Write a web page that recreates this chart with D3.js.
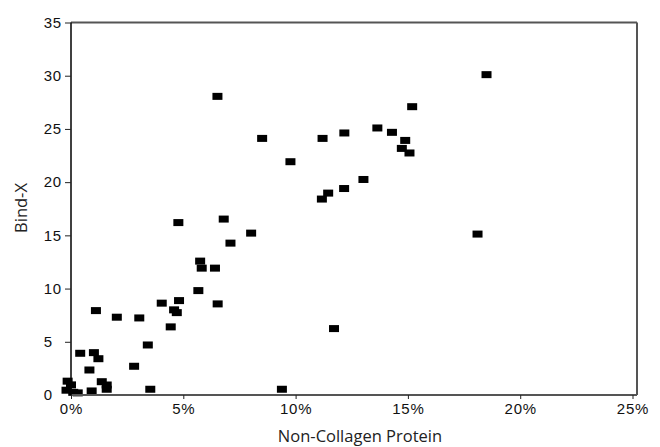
<!DOCTYPE html>
<html>
<head>
<meta charset="utf-8">
<script src="https://d3js.org/d3.v7.min.js"></script>
<style>
  body { margin: 0; background: #fff; }
  .tick text { font-family: "Liberation Sans", Arial, sans-serif; font-size: 15px; fill: #111; letter-spacing: 0.8px; }
  .title { font-family: "Open Sans", sans-serif; font-size: 16.5px; fill: #222; }
</style>
</head>
<body>
<script>
// Non-Collagen Protein (%) vs Bind-X
var protein = [1.11, 2.04, 3.04, 4.04, 4.81, 4.59, 4.71, 4.44, 3.42, 0.41,
               1.02, 1.22, 0.82, 2.81, 1.37, 1.59, 1.59, 0.92, 3.53, 9.39,
               -0.15, 0.0, -0.2, 0.1, 0.3,
               4.78, 6.8, 8.02, 7.1, 5.75, 5.82, 6.41, 5.67, 6.53,
               6.52, 8.51, 11.2, 9.77, 12.17, 13.64, 14.29, 14.88, 14.73, 15.07,
               13.02, 12.16, 11.45, 11.17, 18.1, 11.71, 15.19, 18.5];
var bindX   = [7.93, 7.31, 7.24, 8.63, 8.87, 8.0, 7.74, 6.4, 4.7, 3.92,
               3.98, 3.41, 2.35, 2.7, 1.25, 0.94, 0.54, 0.38, 0.54, 0.54,
               1.3, 0.95, 0.45, 0.25, 0.2,
               16.2, 16.53, 15.21, 14.27, 12.58, 11.92, 11.92, 9.81, 8.56,
               28.06, 24.11, 24.11, 21.92, 24.62, 25.09, 24.68, 23.92, 23.17, 22.74,
               20.25, 19.4, 18.97, 18.41, 15.12, 6.24, 27.09, 30.1];
var xTicks = [0, 5, 10, 15, 20, 25];
var yTicks = [0, 5, 10, 15, 20, 25, 30, 35];

var W = 660, H = 447;
var mLeft = 71, mRight = 637, mTop = 22.5, mBottom = 395;

var svg = d3.select("body").append("svg").attr("width", W).attr("height", H);

var x = d3.scaleLinear().domain([0, 25.2]).range([mLeft, mRight]);
var y = d3.scaleLinear().domain([0, 35]).range([mBottom, mTop]);

// frame (top and right are grey)
svg.append("line").attr("x1", mLeft).attr("x2", mRight).attr("y1", mTop).attr("y2", mTop)
  .attr("stroke", "#555").attr("stroke-width", 2);
svg.append("line").attr("x1", mRight).attr("x2", mRight).attr("y1", mTop).attr("y2", mBottom)
  .attr("stroke", "#555").attr("stroke-width", 2);

// points
svg.append("g").selectAll("rect")
  .data(protein.map(function (p, i) { return [p, bindX[i]]; }))
  .enter().append("rect")
  .attr("x", function (d) { return x(d[0]) - 5; })
  .attr("y", function (d) { return y(d[1]) - 3.5; })
  .attr("width", 10).attr("height", 7)
  .attr("fill", "#000");

// x axis
var xAxis = svg.append("g").attr("transform", "translate(0," + mBottom + ")")
  .call(d3.axisBottom(x).tickValues(xTicks).tickSize(4).tickPadding(4)
    .tickFormat(function (d) { return d + "%"; }));
xAxis.select(".domain").attr("stroke", "#555").attr("stroke-width", 2)
  .attr("d", "M" + mLeft + ",0H" + mRight);
xAxis.selectAll(".tick line").attr("stroke", "#222");

// y axis
var yAxis = svg.append("g").attr("transform", "translate(" + mLeft + ",0)")
  .call(d3.axisLeft(y).tickValues(yTicks).tickSize(6).tickPadding(3)
    .tickFormat(function (d) { return d < 10 ? d + "\u2007" : d; }));
yAxis.select(".domain").attr("stroke", "#000").attr("stroke-width", 1.5)
  .attr("d", "M0," + mTop + "V" + mBottom);
yAxis.selectAll(".tick line").attr("stroke", "#222");
yAxis.selectAll(".tick").filter(function (d) { return d === 0; }).select("line").remove();

// titles
svg.append("text").attr("class", "title")
  .attr("x", 360).attr("y", 442).attr("text-anchor", "middle")
  .text("Non-Collagen Protein");
svg.append("text").attr("class", "title")
  .attr("transform", "translate(27,208) rotate(-90)").attr("text-anchor", "middle")
  .text("Bind-X");
</script>
</body>
</html>
